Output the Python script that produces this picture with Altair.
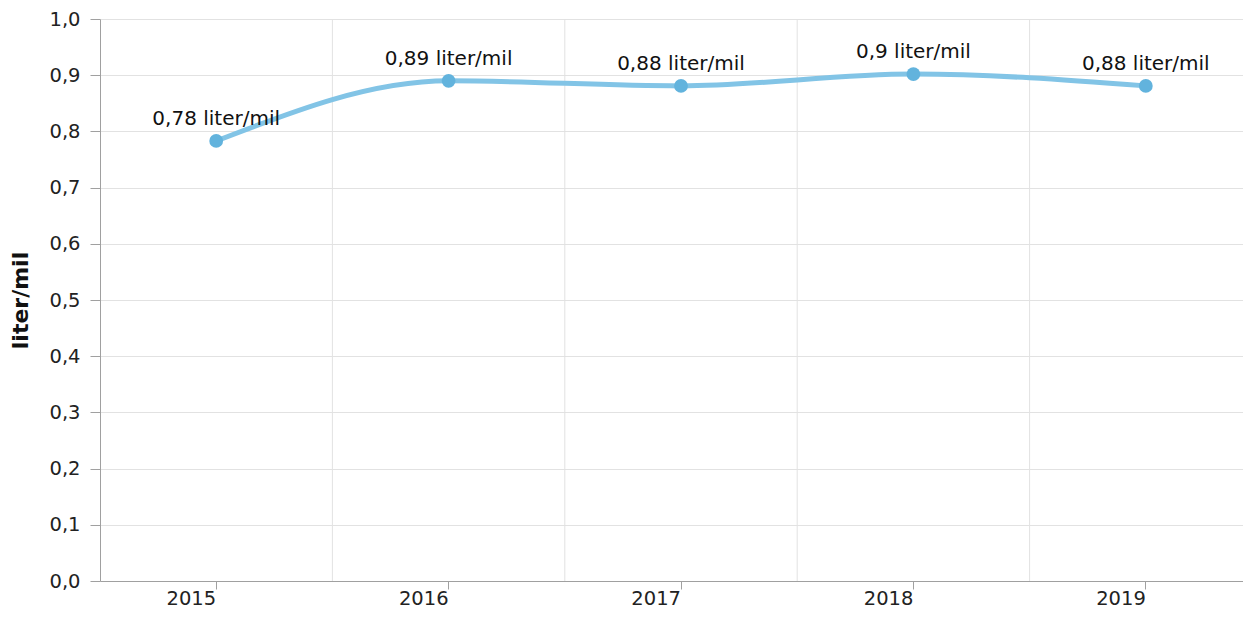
import altair as alt
import pandas as pd

years = ["2015", "2016", "2017", "2018", "2019"]
values = [0.783, 0.890, 0.881, 0.902, 0.881]
labels = ["0,78 liter/mil", "0,89 liter/mil", "0,88 liter/mil", "0,9 liter/mil", "0,88 liter/mil"]
y_ticks = [0, 0.1, 0.2, 0.3, 0.4, 0.5, 0.6, 0.7, 0.8, 0.9, 1.0]

df = pd.DataFrame({"year": years, "value": values, "label": labels})
grid_df = pd.DataFrame({"year": years[1:]})

FONT = "DejaVu Sans"
AXIS_GRAY = "#a0a0a0"
GRID_GRAY = "#e2e2e2"
# the band scale runs a little past the visible right edge, as in the reference
x_scale = alt.Scale(domain=years, paddingInner=0, paddingOuter=0, range=[0, 1162])
y_scale = alt.Scale(domain=[0, 1.0])

vgrid = alt.Chart(grid_df).mark_rule(color=GRID_GRAY, strokeWidth=1).encode(
    x=alt.X("year:N", scale=x_scale, bandPosition=0),
)

line = alt.Chart(df).mark_line(interpolate="monotone", color="#82c4e6", strokeWidth=5).encode(
    x=alt.X("year:N", scale=x_scale, title=None,
            axis=alt.Axis(grid=False, domain=False, labelAngle=0, tickSize=8, tickColor=AXIS_GRAY,
                          labelFontSize=19.5, labelFont=FONT,
                          labelColor="#222222", labelPadding=9)),
    y=alt.Y("value:Q", scale=y_scale, title="liter/mil",
            axis=alt.Axis(values=y_ticks,
                          labelExpr="replace(format(datum.value, '.1f'), '.', ',')",
                          grid=True,
                          gridColor={"condition": {"test": "datum.value === 0", "value": AXIS_GRAY},
                                     "value": GRID_GRAY},
                          tickSize=10, tickColor=AXIS_GRAY,
                          domainColor=AXIS_GRAY, labelFontSize=19.5, labelFont=FONT,
                          labelColor="#222222", labelPadding=10,
                          titleFont=FONT, titleFontSize=22, titleFontWeight="bold",
                          titleColor="#111111", titlePadding=16)),
)

points = alt.Chart(df).mark_circle(color="#62b3dd", size=190, opacity=1).encode(
    x=alt.X("year:N", scale=x_scale),
    y=alt.Y("value:Q", scale=y_scale),
)

text = alt.Chart(df).mark_text(dy=-16, baseline="alphabetic", fontSize=20, font=FONT,
                               color="#111111").encode(
    x=alt.X("year:N", scale=x_scale),
    y=alt.Y("value:Q", scale=y_scale),
    text="label:N",
)

chart = alt.layer(vgrid, line, points, text).properties(
    width=1143, height=562,
    autosize=alt.AutoSizeParams(type="none"),
    padding={"left": 92, "top": 11, "right": 0, "bottom": 31},
).configure_view(stroke=None)

chart.save("out.html", embed_options={"renderer": "svg", "actions": False})
